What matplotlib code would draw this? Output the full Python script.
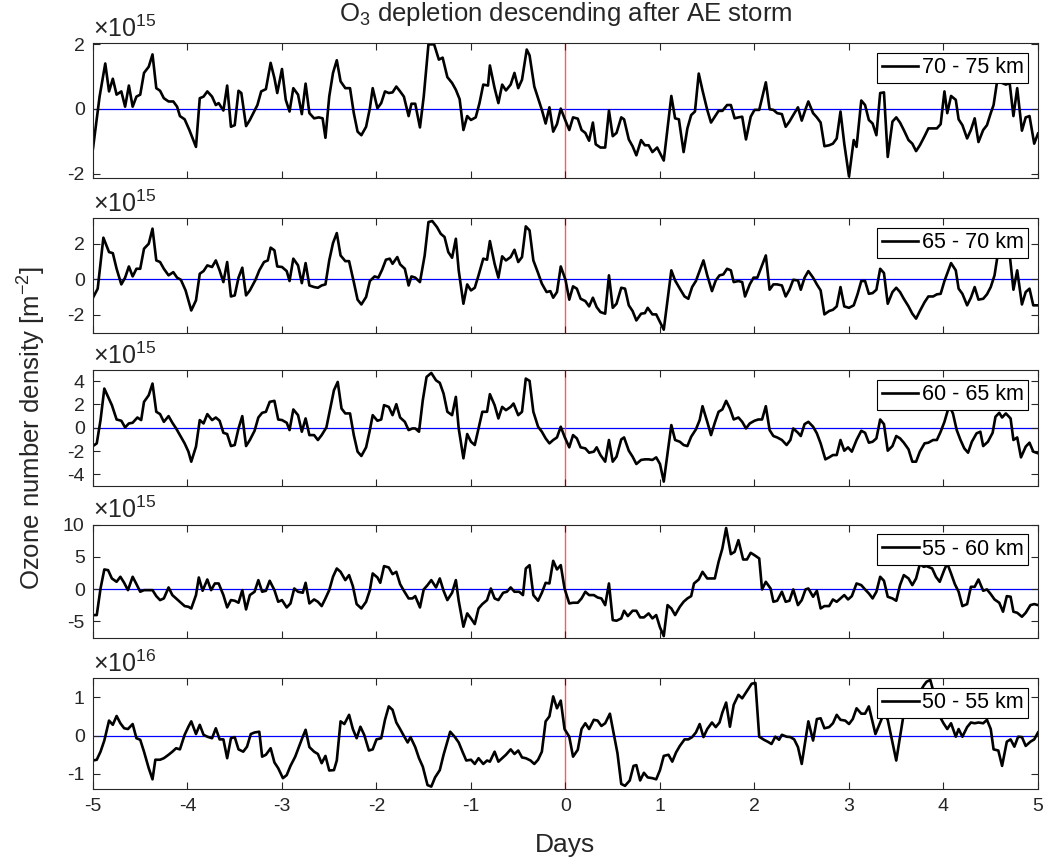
import numpy as np
import matplotlib
matplotlib.use('Agg')
import matplotlib.pyplot as plt

plt.rcParams['font.family'] = ['Liberation Sans', 'DejaVu Sans']
plt.rcParams['mathtext.fontset'] = 'custom'
plt.rcParams['mathtext.rm'] = 'Liberation Sans'
plt.rcParams['axes.unicode_minus'] = False

# time axis (days from storm onset) and anomalies for each altitude band
days_70_75 = [-5.00,-4.93,-4.87,-4.83,-4.79,-4.75,-4.70,-4.66,-4.62,-4.58,-4.54,-4.50,-4.46,-4.41,-4.37,-4.33,-4.29,-4.25,-4.20,-4.15,
              -4.11,-4.08,-4.03,-3.98,-3.91,-3.87,-3.83,-3.79,-3.74,-3.70,-3.67,-3.62,-3.58,-3.54,-3.50,-3.46,-3.43,-3.38,-3.34,-3.26,
              -3.22,-3.17,-3.12,-3.08,-3.05,-3.00,-2.96,-2.92,-2.88,-2.83,-2.79,-2.75,-2.71,-2.66,-2.61,-2.57,-2.54,-2.50,-2.46,-2.42,
              -2.38,-2.33,-2.28,-2.24,-2.20,-2.16,-2.11,-2.07,-2.04,-1.99,-1.95,-1.91,-1.87,-1.83,-1.79,-1.75,-1.71,-1.66,-1.63,-1.59,
              -1.54,-1.50,-1.45,-1.39,-1.34,-1.30,-1.25,-1.20,-1.16,-1.12,-1.08,-1.04,-1.00,-0.95,-0.91,-0.87,-0.82,-0.80,-0.75,-0.71,
              -0.67,-0.63,-0.58,-0.54,-0.50,-0.46,-0.41,-0.38,-0.33,-0.29,-0.25,-0.21,-0.17,-0.13,-0.09,-0.05,-0.01,
              0.04,0.08,0.13,0.17,0.21,0.25,0.29,0.32,0.37,0.42,0.46,0.50,0.54,0.59,0.62,0.67,0.71,0.75,0.80,0.84,
              0.88,0.92,0.97,1.00,1.04,1.12,1.16,1.20,1.25,1.29,1.33,1.37,1.41,1.45,1.50,1.54,1.58,1.62,1.66,1.71,
              1.75,1.79,1.83,1.87,1.91,1.96,2.00,2.05,2.12,2.16,2.20,2.24,2.29,2.33,2.37,2.41,2.46,2.50,2.54,2.57,
              2.62,2.66,2.70,2.74,2.79,2.83,2.87,2.91,2.95,3.00,3.05,3.08,3.13,3.17,3.21,3.25,3.29,3.33,3.37,3.41,
              3.46,3.50,3.54,3.58,3.63,3.67,3.71,3.75,3.80,3.84,3.89,3.93,3.97,4.01,4.04,4.08,4.13,4.16,4.20,4.25,
              4.29,4.33,4.37,4.42,4.46,4.50,4.53,4.57,4.62,4.66,4.70,4.74,4.78,4.83,4.87,4.91,4.96,5.00]
o3_70_75 = [-1.22,0.38,1.40,0.54,0.93,0.44,0.54,0.07,0.72,0.07,0.38,0.44,1.11,1.30,1.68,0.64,0.56,0.33,0.23,0.23,
            0.07,-0.22,-0.32,-0.65,-1.17,0.33,0.38,0.54,0.38,0.12,0.18,-0.05,0.72,-0.55,-0.50,0.56,0.49,-0.53,-0.34,0.12,
            0.54,0.61,1.42,0.95,0.49,1.23,0.28,-0.08,0.64,0.44,-0.16,0.78,-0.13,-0.29,-0.26,-0.29,-0.89,0.38,1.11,1.50,
            0.85,0.64,0.64,-0.13,-0.70,-0.81,-0.55,0.02,0.64,0.02,0.18,0.54,0.49,0.51,0.69,0.54,0.38,-0.22,0.16,0.16,
            -0.57,0.38,1.99,1.99,1.52,1.58,0.98,0.80,0.59,0.30,-0.65,-0.22,-0.34,-0.26,0.18,0.75,0.72,1.34,0.64,0.18,
            0.75,0.57,0.75,1.11,0.64,0.90,1.83,1.65,0.69,0.33,-0.03,-0.45,0.05,-0.70,-0.47,0.01,-0.29,
            -0.65,-0.26,-0.30,-0.65,-0.74,-0.98,-0.42,-1.09,-1.19,-1.19,-0.05,-0.84,-0.74,-0.26,-0.32,-0.94,-1.15,-1.43,-0.96,-1.12,
            -1.12,-1.33,-1.19,-1.36,-1.59,0.40,-0.29,-0.32,-1.33,-0.60,-0.19,-0.08,1.09,0.57,-0.03,-0.42,-0.24,-0.06,-0.06,0.12,
            0.12,-0.29,-0.26,-0.24,-0.94,-0.24,-0.03,-0.03,0.82,-0.01,-0.03,-0.13,-0.16,-0.55,-0.39,-0.19,0.05,-0.36,-0.01,0.23,
            -0.13,-0.26,-0.42,-1.15,-1.12,-1.07,-0.91,-0.08,-1.07,-2.08,-0.96,-1.17,0.26,0.12,-0.34,-0.45,-0.81,0.49,0.51,-1.48,
            -0.39,-0.26,-0.42,-0.65,-0.96,-1.07,-1.30,-1.12,-0.84,-0.60,-0.60,-0.60,-0.47,0.54,-0.13,0.40,0.28,-0.32,-0.50,-0.91,
            -0.65,-0.29,-1.02,-0.65,-0.50,-0.13,0.12,0.90,0.80,0.75,0.80,-0.22,0.64,-0.67,-0.26,-0.22,-1.07,-0.76]

days_65_70 = [-5.00,-4.95,-4.89,-4.83,-4.79,-4.75,-4.70,-4.66,-4.62,-4.58,-4.54,-4.50,-4.46,-4.41,-4.37,-4.33,-4.29,-4.25,-4.20,-4.15,
              -4.11,-4.07,-4.02,-3.96,-3.91,-3.87,-3.83,-3.79,-3.74,-3.70,-3.66,-3.62,-3.58,-3.54,-3.50,-3.46,-3.42,-3.38,-3.34,-3.28,
              -3.24,-3.19,-3.15,-3.12,-3.08,-3.05,-3.00,-2.95,-2.92,-2.88,-2.83,-2.79,-2.75,-2.71,-2.66,-2.62,-2.58,-2.54,-2.50,-2.46,
              -2.42,-2.38,-2.33,-2.29,-2.24,-2.20,-2.16,-2.11,-2.07,-2.02,-1.98,-1.94,-1.90,-1.86,-1.83,-1.78,-1.75,-1.70,-1.66,-1.63,
              -1.59,-1.54,-1.49,-1.45,-1.41,-1.36,-1.32,-1.28,-1.24,-1.20,-1.16,-1.13,-1.08,-1.04,-1.00,-0.96,-0.92,-0.87,-0.83,-0.80,
              -0.75,-0.71,-0.67,-0.63,-0.58,-0.54,-0.50,-0.46,-0.42,-0.38,-0.34,-0.29,-0.25,-0.20,-0.16,-0.13,-0.09,-0.05,0.00,
              0.04,0.08,0.12,0.16,0.21,0.25,0.29,0.33,0.37,0.42,0.46,0.50,0.54,0.59,0.63,0.67,0.71,0.75,0.80,0.84,
              0.87,0.92,0.96,1.00,1.04,1.12,1.16,1.21,1.26,1.30,1.34,1.38,1.46,1.50,1.55,1.59,1.63,1.67,1.71,1.75,
              1.78,1.83,1.87,1.90,1.95,1.99,2.03,2.12,2.16,2.20,2.24,2.29,2.33,2.37,2.41,2.46,2.49,2.53,2.57,2.62,
              2.66,2.70,2.74,2.79,2.83,2.87,2.91,2.95,3.00,3.05,3.09,3.13,3.17,3.21,3.25,3.29,3.33,3.37,3.41,3.46,
              3.50,3.54,3.58,3.63,3.67,3.71,3.75,3.80,3.84,3.89,3.93,3.97,4.01,4.08,4.13,4.16,4.20,4.25,4.29,4.33,
              4.37,4.42,4.46,4.50,4.54,4.57,4.62,4.66,4.70,4.74,4.78,4.83,4.87,4.91,4.95,5.00]
o3_65_70 = [-1.05,-0.54,2.33,1.52,1.46,0.58,-0.30,0.08,0.71,0.15,0.58,0.58,1.71,1.99,2.84,1.05,0.96,0.58,0.21,0.39,
            0.08,-0.04,-0.64,-1.77,-1.20,0.30,0.45,0.77,0.68,1.05,0.49,-0.17,0.96,-0.98,-0.92,0.08,0.64,-0.92,-0.64,-0.04,
            0.49,0.96,1.05,1.77,1.62,0.71,0.68,0.45,-0.11,1.15,0.77,-0.23,0.90,-0.36,-0.45,-0.49,-0.36,-0.30,1.05,2.03,
            2.59,1.33,1.01,1.01,-0.17,-1.16,-1.43,-1.01,-0.11,0.15,0.08,0.53,1.09,1.15,0.86,1.24,0.83,0.58,-0.36,0.15,
            0.08,-0.17,1.33,3.21,3.27,2.93,2.55,2.37,1.52,1.20,2.27,0.49,-1.39,-0.30,-0.64,-0.49,0.21,1.15,1.09,2.14,
            0.86,0.08,1.28,1.05,1.24,1.65,0.96,1.24,2.97,2.74,1.05,0.34,-0.26,-0.73,-0.68,-1.05,-0.73,0.71,-0.04,
            -1.16,-0.41,-0.54,-1.11,-1.24,-1.54,-1.05,-1.58,-1.86,-1.95,0.21,-1.62,-1.39,-0.49,-0.54,-1.48,-1.80,-2.33,-1.95,-1.92,
            -1.62,-1.99,-1.99,-2.42,-2.85,0.49,-0.08,-0.54,-0.98,-1.11,-0.45,-0.11,1.05,0.21,-0.68,-0.08,0.21,0.26,0.58,0.49,
            -0.17,-0.11,-0.17,-0.98,-0.30,0.08,0.08,1.33,-0.60,-0.30,-0.30,-0.36,-0.98,-0.60,-0.04,-0.08,-0.60,0.08,0.45,0.08,
            -0.30,-0.64,-1.99,-1.80,-1.73,-1.54,-0.45,-1.54,-1.62,-1.48,-0.86,-0.11,-0.11,-0.83,-0.79,-0.60,0.58,0.34,-1.39,-0.73,
            -0.49,-0.73,-1.11,-1.54,-1.95,-2.23,-1.80,-1.30,-0.98,-0.98,-0.86,-0.83,-0.11,0.90,0.49,-0.54,-0.83,-1.48,-1.05,-0.45,
            -1.16,-1.11,-0.86,-0.45,0.21,1.24,1.40,1.30,1.40,-0.60,0.49,-1.43,-0.73,-0.54,-1.48,-1.48]

days_60_65 = [-5.00,-4.96,-4.92,-4.88,-4.84,-4.80,-4.75,-4.70,-4.66,-4.62,-4.58,-4.53,-4.49,-4.46,-4.41,-4.37,-4.33,-4.29,-4.25,-4.20,
              -4.16,-4.12,-4.08,-4.03,-3.99,-3.96,-3.91,-3.87,-3.83,-3.79,-3.74,-3.70,-3.66,-3.62,-3.58,-3.54,-3.50,-3.46,-3.42,-3.38,
              -3.34,-3.29,-3.25,-3.21,-3.17,-3.13,-3.08,-3.04,-3.00,-2.95,-2.92,-2.88,-2.83,-2.79,-2.75,-2.71,-2.66,-2.62,-2.58,-2.53,
              -2.50,-2.45,-2.41,-2.37,-2.33,-2.28,-2.24,-2.20,-2.16,-2.11,-2.07,-2.04,-1.99,-1.95,-1.92,-1.87,-1.83,-1.79,-1.75,-1.70,
              -1.66,-1.62,-1.59,-1.55,-1.51,-1.47,-1.42,-1.37,-1.33,-1.29,-1.25,-1.20,-1.16,-1.13,-1.08,-1.04,-1.00,-0.96,-0.92,-0.88,
              -0.83,-0.80,-0.75,-0.71,-0.67,-0.63,-0.58,-0.55,-0.50,-0.46,-0.42,-0.38,-0.34,-0.29,-0.25,-0.21,-0.17,-0.13,-0.09,-0.05,-0.01,
              0.04,0.08,0.12,0.16,0.21,0.25,0.30,0.33,0.37,0.42,0.46,0.50,0.54,0.59,0.62,0.67,0.71,0.75,0.80,0.84,
              0.88,0.92,0.96,1.00,1.04,1.12,1.16,1.21,1.25,1.29,1.33,1.38,1.42,1.45,1.50,1.54,1.58,1.62,1.66,1.70,
              1.74,1.78,1.83,1.87,1.91,1.95,2.00,2.04,2.08,2.12,2.16,2.20,2.24,2.29,2.34,2.38,2.41,2.46,2.49,2.53,
              2.57,2.62,2.66,2.70,2.75,2.79,2.83,2.87,2.91,2.95,2.99,3.03,3.08,3.13,3.17,3.21,3.25,3.29,3.33,3.37,
              3.41,3.46,3.50,3.54,3.58,3.63,3.67,3.71,3.75,3.80,3.84,3.89,3.93,3.97,4.01,4.06,4.10,4.14,4.18,4.22,
              4.26,4.30,4.35,4.39,4.42,4.47,4.52,4.55,4.59,4.62,4.66,4.71,4.74,4.78,4.82,4.87,4.91,4.95,5.00]
o3_60_65 = [-1.57,-1.34,0.66,3.36,2.65,1.94,0.71,0.60,0.03,0.37,0.43,0.88,0.66,2.22,2.79,3.79,1.37,1.17,0.51,1.00,
            0.43,-0.06,-0.63,-1.34,-2.05,-2.91,-1.62,0.66,0.37,1.17,0.66,0.88,0.60,-0.43,-0.54,-1.57,-1.48,-0.06,1.00,-1.57,
            -1.05,-0.26,0.88,1.28,1.37,2.22,2.31,0.71,0.66,0.43,-0.20,1.57,1.08,-0.34,0.80,-0.63,-0.63,-1.05,-0.63,0.03,
            1.23,3.22,3.93,1.65,1.23,1.23,-0.63,-2.05,-2.42,-1.68,-0.20,1.08,0.60,0.71,1.94,1.79,1.08,2.02,0.88,0.51,
            -0.20,-0.06,-0.06,-0.34,2.36,4.36,4.70,4.07,3.85,2.93,1.37,1.08,2.65,-0.06,-2.62,-0.54,-1.20,-1.48,-0.06,1.37,
            1.37,2.88,1.94,0.80,1.79,1.51,1.79,2.08,1.08,1.37,4.22,4.02,1.37,0.09,-0.34,-0.91,-1.34,-1.05,-0.83,0.09,-0.77,
            -1.68,-0.63,-0.91,-1.68,-1.77,-2.14,-2.05,-1.68,-2.34,-2.91,-1.05,-2.91,-2.48,-1.00,-0.83,-1.97,-2.48,-3.11,-2.76,-2.71,
            -2.71,-2.76,-2.54,-3.11,-4.62,0.23,-1.05,-1.20,-1.48,-1.57,-0.77,-0.14,0.66,1.85,0.51,-0.63,0.43,1.37,1.57,2.31,
            1.65,0.71,0.88,0.51,-0.06,0.37,0.60,0.71,0.71,1.85,-0.20,-0.71,-0.83,-1.05,-1.48,-1.05,-0.06,-0.43,-0.71,0.31,
            0.51,0.09,-0.48,-1.34,-2.71,-2.54,-2.34,-2.34,-1.05,-1.97,-1.68,-2.05,-1.05,-0.26,-0.43,-1.28,-1.20,-0.91,0.71,0.31,
            -1.97,-1.57,-0.71,-0.91,-1.28,-1.85,-2.91,-2.91,-2.05,-1.34,-1.28,-1.05,-1.05,-0.34,0.51,1.90,1.23,-0.20,-1.05,-1.77,
            -2.14,-1.20,-0.48,-0.34,-1.57,-1.20,-0.43,0.94,1.28,0.88,1.23,0.80,-1.05,-0.83,-2.54,-1.62,-1.28,-2.05,-2.19]

days_55_60 = [-5.00,-4.96,-4.92,-4.88,-4.84,-4.80,-4.75,-4.71,-4.67,-4.63,-4.58,-4.54,-4.50,-4.46,-4.41,-4.37,-4.33,-4.29,-4.25,-4.20,
              -4.16,-4.12,-4.08,-4.03,-3.99,-3.96,-3.91,-3.88,-3.84,-3.79,-3.75,-3.71,-3.67,-3.62,-3.58,-3.54,-3.50,-3.46,-3.42,-3.38,
              -3.34,-3.29,-3.25,-3.21,-3.17,-3.13,-3.08,-3.04,-3.00,-2.95,-2.91,-2.87,-2.83,-2.78,-2.75,-2.71,-2.66,-2.62,-2.58,-2.54,
              -2.50,-2.46,-2.42,-2.38,-2.33,-2.29,-2.25,-2.21,-2.16,-2.11,-2.07,-2.04,-1.99,-1.96,-1.92,-1.87,-1.83,-1.79,-1.75,-1.71,
              -1.66,-1.62,-1.59,-1.54,-1.50,-1.46,-1.42,-1.37,-1.33,-1.29,-1.25,-1.20,-1.16,-1.13,-1.08,-1.04,-1.00,-0.96,-0.92,-0.88,
              -0.83,-0.79,-0.75,-0.71,-0.66,-0.62,-0.58,-0.54,-0.49,-0.45,-0.42,-0.38,-0.34,-0.29,-0.25,-0.21,-0.17,-0.13,-0.09,-0.05,-0.01,
              0.04,0.08,0.13,0.17,0.21,0.25,0.30,0.34,0.38,0.42,0.46,0.50,0.54,0.59,0.62,0.66,0.71,0.75,0.79,0.83,
              0.88,0.92,0.96,1.00,1.04,1.08,1.12,1.16,1.21,1.25,1.29,1.33,1.36,1.41,1.45,1.50,1.54,1.58,1.62,1.66,
              1.70,1.75,1.79,1.83,1.88,1.92,1.96,2.00,2.05,2.08,2.12,2.17,2.20,2.24,2.29,2.33,2.37,2.41,2.46,2.50,
              2.54,2.57,2.62,2.66,2.70,2.74,2.79,2.83,2.87,2.91,2.95,2.99,3.03,3.08,3.13,3.17,3.21,3.25,3.29,3.33,
              3.37,3.41,3.46,3.50,3.54,3.58,3.63,3.67,3.71,3.75,3.79,3.82,3.88,3.92,3.96,4.01,4.04,4.08,4.12,4.16,
              4.20,4.25,4.29,4.33,4.37,4.42,4.46,4.50,4.54,4.59,4.63,4.67,4.71,4.74,4.78,4.83,4.87,4.92,4.96,5.00]
o3_55_60 = [-4.04,-4.04,0.10,3.06,2.95,1.66,1.14,1.92,0.98,-0.16,1.92,0.78,-0.41,-0.16,-0.16,-0.16,-1.09,-1.71,-1.45,0.26,
            -0.93,-1.45,-1.97,-2.64,-2.75,-3.01,-0.93,1.81,-0.26,1.50,-0.16,0.88,0.88,-0.93,-2.85,-1.71,-1.81,-2.12,-0.16,-3.16,
            -0.93,-0.41,1.40,-0.41,-0.26,1.30,-0.16,-1.97,-1.71,-2.85,-2.23,0.10,-0.41,-0.57,0.98,-2.23,-1.61,-1.97,-2.64,-1.45,
            -0.16,1.92,3.21,2.69,1.40,2.18,0.47,-2.33,-3.01,-1.97,-0.16,2.44,1.81,0.98,3.58,3.37,2.33,2.69,0.78,-0.26,
            -1.45,-1.45,-1.09,-2.85,-0.05,0.62,1.40,0.26,1.66,-0.26,-1.71,-0.57,1.40,-1.81,-5.85,-3.78,-4.56,-5.44,-3.01,-2.33,
            -1.71,0.10,-1.45,-1.71,-0.57,-0.41,0.26,-0.41,-0.41,-0.93,3.21,3.73,-0.93,-1.81,-0.57,0.98,0.88,4.40,3.06,3.73,0.10,
            -2.23,-2.12,-2.12,-1.45,-0.41,-0.93,-0.93,-1.30,-1.45,-2.49,0.88,-4.82,-4.92,-4.56,-3.37,-4.20,-3.37,-3.37,-4.40,-4.40,
            -3.78,-4.56,-4.04,-5.96,-7.31,-2.49,-3.01,-4.04,-2.75,-1.97,-1.45,-1.09,0.88,1.50,2.69,1.66,1.66,1.66,4.25,6.32,
            9.50,5.44,5.80,7.62,4.61,4.61,5.65,5.28,4.77,-0.05,1.14,0.10,-1.97,-1.81,-0.41,-1.97,-1.81,-0.05,-2.49,-1.71,
            -0.05,0.10,-1.19,-0.26,-3.01,-2.64,-2.64,-1.61,-1.97,-1.45,-0.93,-1.61,-1.09,0.88,0.62,-0.05,-0.67,-1.45,-0.41,1.92,
            1.30,-1.19,-1.45,-1.81,0.62,2.18,1.66,0.62,1.66,3.89,3.47,3.58,3.21,1.92,1.14,3.06,3.99,2.44,0.78,-0.41,
            -2.64,-2.33,0.36,0.36,1.50,-0.26,-0.05,-0.78,-1.61,-2.12,-3.52,-1.09,-1.19,-3.52,-3.68,-4.30,-3.68,-2.49,-2.33,-2.49]

days_50_55 = [-5.00,-4.96,-4.92,-4.88,-4.83,-4.79,-4.75,-4.71,-4.67,-4.63,-4.58,-4.54,-4.50,-4.46,-4.41,-4.37,-4.34,-4.29,-4.25,-4.20,
              -4.16,-4.12,-4.08,-4.03,-3.99,-3.96,-3.91,-3.87,-3.83,-3.79,-3.74,-3.70,-3.66,-3.62,-3.58,-3.54,-3.50,-3.46,-3.41,-3.37,
              -3.33,-3.29,-3.24,-3.21,-3.17,-3.12,-3.08,-3.04,-2.99,-2.95,-2.91,-2.86,-2.82,-2.78,-2.75,-2.71,-2.66,-2.62,-2.58,-2.54,
              -2.50,-2.45,-2.42,-2.38,-2.34,-2.29,-2.25,-2.21,-2.17,-2.13,-2.08,-2.04,-2.00,-1.95,-1.91,-1.87,-1.83,-1.79,-1.75,-1.71,
              -1.67,-1.64,-1.59,-1.55,-1.51,-1.46,-1.42,-1.38,-1.33,-1.29,-1.22,-1.17,-1.13,-1.09,-1.05,-1.00,-0.96,-0.92,-0.87,-0.83,
              -0.80,-0.75,-0.71,-0.67,-0.63,-0.58,-0.54,-0.50,-0.46,-0.42,-0.37,-0.33,-0.29,-0.25,-0.21,-0.17,-0.13,-0.09,-0.05,-0.01,
              0.04,0.08,0.13,0.17,0.21,0.25,0.30,0.34,0.38,0.42,0.47,0.51,0.55,0.59,0.63,0.68,0.72,0.75,0.79,0.83,
              0.87,0.92,0.96,1.00,1.04,1.09,1.13,1.17,1.21,1.26,1.30,1.34,1.38,1.42,1.46,1.50,1.55,1.59,1.63,1.66,
              1.70,1.74,1.78,1.83,1.87,1.91,1.97,2.01,2.05,2.10,2.14,2.18,2.22,2.26,2.29,2.34,2.38,2.42,2.46,2.50,
              2.54,2.57,2.62,2.66,2.70,2.74,2.79,2.83,2.87,2.91,2.96,3.00,3.04,3.08,3.13,3.17,3.21,3.28,3.32,3.37,
              3.41,3.50,3.54,3.58,3.65,3.72,3.79,3.82,3.86,3.91,3.96,4.00,4.04,4.08,4.13,4.16,4.20,4.25,4.29,4.33,
              4.37,4.42,4.46,4.50,4.53,4.58,4.62,4.67,4.71,4.75,4.79,4.83,4.87,4.92,4.96,5.00]
o3_50_55 = [-0.65,-0.63,-0.42,-0.13,0.39,0.28,0.51,0.32,0.19,0.17,0.30,-0.07,-0.11,-0.42,-0.85,-1.14,-0.63,-0.63,-0.59,-0.50,
            -0.42,-0.33,-0.36,0.02,0.23,0.37,0.04,0.28,0.02,-0.03,-0.07,0.19,-0.10,-0.10,-0.59,-0.07,-0.04,-0.36,-0.42,-0.29,
            0.04,0.08,0.10,-0.55,-0.50,-0.33,-0.70,-0.85,-1.11,-1.03,-0.79,-0.55,-0.29,-0.03,0.15,-0.30,-0.42,-0.48,-0.72,-0.53,
            -0.91,-0.90,-0.65,0.37,0.30,0.54,0.17,-0.07,0.23,0.02,-0.39,-0.36,-0.10,-0.07,0.41,0.76,0.67,0.34,0.17,-0.01,
            -0.18,-0.04,-0.30,-0.59,-0.81,-1.29,-1.33,-1.09,-0.90,-0.50,0.10,-0.04,-0.18,-0.42,-0.65,-0.63,-0.74,-0.59,-0.74,-0.65,
            -0.68,-0.42,-0.68,-0.59,-0.50,-0.36,-0.48,-0.39,-0.57,-0.59,-0.65,-0.74,-0.63,-0.42,0.37,0.50,1.02,0.71,0.91,0.17,
            -0.03,-0.55,-0.37,0.17,0.32,0.17,0.41,0.39,0.25,0.32,0.57,0.06,-0.46,-1.26,-1.31,-1.17,-0.79,-0.77,-1.17,-0.97,
            -1.09,-1.11,-1.14,-0.90,-0.53,-0.50,-0.68,-0.44,-0.27,-0.10,-0.10,-0.04,0.08,0.30,-0.04,0.17,0.34,0.22,0.34,0.60,
            0.86,0.23,0.80,1.06,0.97,1.12,1.35,1.37,-0.03,-0.11,-0.16,-0.22,-0.03,-0.11,0.02,-0.03,-0.04,-0.10,-0.30,-0.74,
            -0.10,0.37,-0.13,0.43,0.45,0.19,0.22,0.32,0.54,0.41,0.39,0.30,0.43,0.71,0.57,0.57,0.76,0.04,0.28,0.58,
            0.41,-0.65,-0.03,0.58,0.80,1.00,1.30,1.40,1.45,1.00,0.50,0.32,0.17,0.32,-0.03,0.17,-0.03,0.22,0.34,0.32,
            0.34,0.32,0.41,0.17,-0.36,-0.39,-0.79,-0.16,-0.10,-0.29,-0.03,-0.04,-0.27,-0.16,-0.10,0.08]

bands = ['70 - 75 km', '65 - 70 km', '60 - 65 km', '55 - 60 km', '50 - 55 km']
exponents = [15, 15, 15, 15, 16]
series = [(days_70_75, o3_70_75), (days_65_70, o3_65_70), (days_60_65, o3_60_65),
          (days_55_60, o3_55_60), (days_50_55, o3_50_55)]
ylims = [(-2.13, 2.03), (-3.04, 3.44), (-5.0, 4.95), (-7.65, 10.05), (-1.40, 1.50)]
yticks = [[-2, 0, 2], [-2, 0, 2], [-4, -2, 0, 2, 4], [-5, 0, 5, 10], [-1, 0, 1]]

# axes boxes in figure fraction (left, bottom, width, height)
boxes = [(0.0888, 0.7937, 0.9026, 0.1564),
         (0.0888, 0.6141, 0.9026, 0.1333),
         (0.0888, 0.4368, 0.9026, 0.1344),
         (0.0888, 0.2604, 0.9026, 0.1318),
         (0.0888, 0.0854, 0.9026, 0.1290)]

dark = '#262626'
fig = plt.figure(figsize=(10.47, 8.63), dpi=100)

for i, (band, (t, v)) in enumerate(zip(bands, series)):
    ax = fig.add_axes(boxes[i])
    ax.axhline(0, color='#0000ff', lw=0.9, zorder=1)
    ax.axvline(0, color='#ff3030', lw=1.0, alpha=0.8, zorder=1)
    ax.plot(t, v, color='black', lw=1.9, label=band, zorder=2)
    ax.set_xlim(-5, 5)
    ax.set_ylim(*ylims[i])
    ax.set_xticks(range(-5, 6))
    ax.set_yticks(yticks[i])
    ax.tick_params(direction='in', top=True, right=True, length=5, width=0.8,
                   labelsize=14, colors=dark, labelbottom=(i == 4), pad=6)
    for s in ax.spines.values():
        s.set_color(dark)
        s.set_linewidth(0.8)
    ax.text(0, 1.01, r'$\mathregular{\times10^{%d}}$' % exponents[i], transform=ax.transAxes,
            fontsize=18, color=dark, ha='left', va='bottom')
    leg = ax.legend(loc='upper right', fontsize=15.5, fancybox=False, framealpha=1,
                    edgecolor='black', handlelength=1.7, handletextpad=0.15,
                    borderpad=0.22, borderaxespad=0.45)
    leg.get_frame().set_linewidth(0.8)
    if i == 4:
        ax.set_xlabel('Days', fontsize=19, color=dark, labelpad=13)

fig.text(0.540, 0.984, r'$\mathregular{O_3}$ depletion descending after AE storm',
         ha='center', va='center', fontsize=18.5, color=dark)
fig.text(0.029, 0.504, r'Ozone number density [m$^{\mathregular{-2}}$]', rotation=90,
         ha='center', va='center', fontsize=18.5, color=dark)

fig.savefig('out.png', dpi=100)
